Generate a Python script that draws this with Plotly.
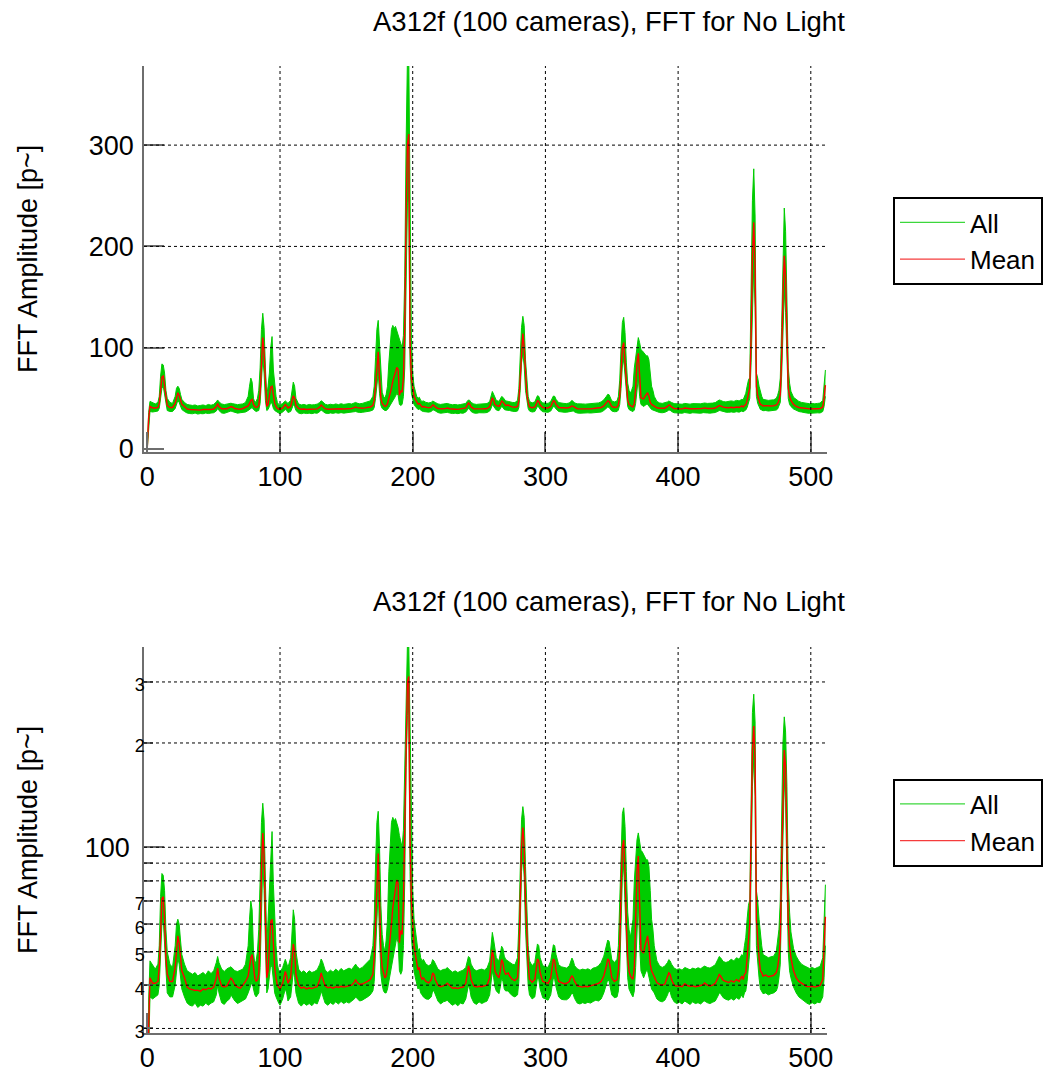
import math
import plotly.graph_objects as go

# ---------------- data ----------------
freq = [0, 1, 2, 4, 6, 8, 9, 10, 11, 12,
        13, 14, 15, 17, 19, 21, 22, 23, 24, 25,
        26, 28, 30, 32, 34, 36, 38, 40, 42, 44,
        46, 48, 50, 52, 53, 54, 56, 58, 60, 62,
        63, 64, 66, 68, 70, 72, 74, 76, 77, 78,
        79, 80, 81, 82, 83, 84, 85, 86, 87, 88,
        89, 90, 91, 92, 93, 94, 95, 96, 97, 98,
        99, 100, 102, 104, 105, 106, 108, 109, 110, 111,
        112, 114, 116, 118, 120, 122, 124, 126, 128, 130,
        131, 132, 134, 136, 138, 140, 142, 144, 146, 148,
        150, 152, 154, 156, 157, 158, 160, 162, 164, 166,
        168, 170, 171, 172, 173, 174, 175, 176, 177, 178,
        179, 180, 181, 182, 183, 184, 185, 186, 187, 188,
        189, 190, 191, 192, 193, 194, 195, 196, 197, 198,
        199, 200, 201, 202, 203, 204, 205, 206, 207, 208,
        210, 212, 214, 215, 216, 217, 219, 221, 223, 225,
        226, 228, 230, 232, 234, 236, 238, 240, 241, 242,
        243, 244, 246, 248, 250, 252, 254, 256, 258, 259,
        260, 261, 262, 263, 265, 266, 267, 268, 269, 270,
        272, 273, 275, 277, 279, 280, 281, 282, 283, 284,
        285, 286, 287, 288, 290, 292, 293, 294, 295, 296,
        298, 300, 302, 304, 305, 306, 307, 308, 310, 312,
        314, 316, 318, 319, 320, 321, 322, 324, 326, 328,
        330, 332, 334, 336, 338, 340, 342, 344, 346, 347,
        348, 349, 350, 352, 354, 355, 356, 357, 358, 359,
        360, 361, 362, 363, 364, 365, 366, 367, 368, 369,
        370, 371, 372, 373, 374, 375, 376, 377, 378, 379,
        380, 381, 382, 384, 386, 388, 390, 392, 393, 394,
        395, 397, 399, 401, 403, 405, 407, 409, 411, 413,
        415, 417, 419, 420, 422, 424, 426, 428, 430, 431,
        432, 434, 436, 438, 440, 442, 444, 446, 448, 449,
        450, 451, 452, 453, 454, 455, 456, 457, 458, 459,
        460, 461, 462, 463, 464, 466, 468, 470, 472, 474,
        475, 476, 477, 478, 479, 480, 481, 482, 483, 484,
        485, 487, 489, 491, 493, 495, 497, 499, 501, 503,
        505, 507, 509, 510, 511]

mean_amp = [2, 30, 42, 40.5, 40.5, 41, 45, 58, 71, 72,
            62, 48, 43, 41, 41, 45, 52, 55.5, 53, 47,
            44, 42, 39.5, 39, 38.8, 38.6, 38.7, 38.4, 39, 38.8,
            39.2, 39, 39.5, 42, 44.8, 42, 39.8, 39.5, 39.8, 41,
            41.9, 41.5, 40, 39.5, 39.2, 40, 41, 42.5, 45, 48,
            49, 44, 42, 41, 41.5, 43, 55, 85, 110, 95,
            60, 42, 44, 52, 61, 62, 52, 45, 42, 40,
            39.5, 39, 40.5, 43.8, 42.5, 40.5, 42, 47, 52.6, 50,
            43, 40, 39.2, 39.5, 39, 39.3, 39.1, 39.4, 39.6, 41.5,
            43.4, 42, 39.8, 39.3, 39.5, 39.2, 39.6, 39.4, 39.7, 39.5,
            39.6, 39.8, 40, 40.8, 41.5, 40.8, 40.2, 40.3, 40.6, 41,
            41.5, 43, 48, 62, 85, 96, 70, 50, 45, 43,
            42, 42.5, 45, 50, 54, 60, 67, 72, 77, 80.5,
            78.6, 53, 57.5, 56, 70, 120, 230, 300, 311, 105,
            70, 57.8, 52, 49, 46, 44.3, 45, 42.5, 41.6, 42,
            41, 40.6, 41.5, 43.4, 43, 41.5, 40, 39.6, 39.8, 40.1,
            40.5, 39.8, 39.2, 39.3, 39.1, 39.4, 39.5, 40.5, 43, 45.5,
            44, 41.5, 39.8, 39.5, 39.7, 39.6, 39.8, 40, 42, 46,
            50.6, 48, 44, 43, 42, 44, 47.4, 46.5, 44, 43,
            43.4, 42.5, 41.6, 41.2, 42, 48, 70, 100, 114, 100,
            70, 54, 46, 41.6, 40.8, 41.5, 44, 47.6, 47, 43.5,
            41, 40.7, 40.5, 42, 45, 47.6, 47, 44, 41, 40.7,
            40.4, 40.5, 41, 42, 42.5, 42, 41, 39.8, 39.6, 39.5,
            39.7, 39.6, 39.8, 40, 40.3, 40.5, 41, 42.5, 45.5, 47.6,
            47, 44, 42, 41, 41.5, 44, 52, 75, 100, 105,
            85, 60, 48, 44, 42.5, 42, 41.6, 45, 60, 85,
            94.4, 70, 50.6, 50, 49.5, 52, 54, 55.5, 52, 46,
            44, 43, 42.5, 40.7, 40.2, 40, 40.3, 42, 43.4, 43,
            41.5, 40, 39.7, 39.8, 39.6, 40.4, 39.9, 39.7, 39.8, 39.6,
            39.7, 39.9, 40.2, 40.6, 40, 39.8, 40, 40.5, 42, 42.9,
            42.5, 41.3, 41, 40.7, 41.2, 40.8, 41.5, 41, 42.5, 41.5,
            43, 43.4, 48, 55, 60.4, 110, 190, 223.7, 180, 61.7,
            52, 48, 44, 43.5, 42.5, 42.8, 42.3, 42.5, 42.7, 43.5,
            45, 48, 54, 90, 150, 190.7, 170, 110, 60.4, 52,
            48, 44, 42, 41, 40.5, 40, 39.6, 39.6, 39.7, 39.5,
            39.7, 39.9, 41.5, 50, 63]

all_low = [0.5, 25, 37, 36.5, 37, 37.5, 40, 50, 60, 62,
           53, 42, 38, 37, 37, 40, 45, 48, 46, 42,
           39, 37, 35.5, 35, 34.8, 35.5, 34.5, 35, 34.8, 35.5,
           35, 35.5, 35.8, 37.5, 40, 38, 35.6, 35.2, 36, 36.5,
           37.5, 37, 36, 35.4, 35.8, 36, 36.5, 38, 39, 40,
           41, 39, 37.5, 37, 37.5, 38, 45, 70, 90, 75,
           48, 38, 39, 42, 46, 45, 40, 38, 37, 36,
           35.5, 35, 36.5, 39, 38, 36, 37, 40, 44, 42,
           38, 35.5, 34.8, 35.5, 35, 35.4, 34.9, 35.6, 35.3, 37,
           38.5, 37.5, 35.5, 35, 35.6, 35.2, 35.8, 35.3, 35.9, 35.4,
           35.8, 35.5, 36, 36.5, 37, 36.6, 36, 36.2, 36.5, 37,
           37.5, 38.5, 41, 50, 65, 75, 55, 43, 40, 38.5,
           38, 38, 39, 41, 43, 45, 48, 50, 52, 55,
           53, 44, 43, 44, 52, 80, 170, 240, 250, 85,
           55, 48, 44, 42, 40, 39, 39.5, 38, 37.5, 37,
           36.5, 36.4, 37, 38.5, 38.5, 37.5, 36, 35.3, 35.8, 36,
           36.2, 35.5, 35, 35.4, 34.9, 35.5, 35.3, 36.5, 38, 40,
           39, 37, 35.6, 35.2, 35.8, 35.4, 35.7, 36, 37.5, 40,
           44, 42, 39.5, 38.5, 37.8, 39.5, 42, 41, 39, 38.5,
           38.5, 38, 37.3, 37, 37.5, 41, 58, 85, 95, 82,
           58, 46, 40, 37.5, 36.5, 37, 39.5, 42, 41.5, 39,
           36.8, 36.5, 36.2, 37.5, 40, 42, 41.5, 39.5, 37, 36.4,
           36.3, 36.3, 36.8, 37.5, 38, 37.6, 36.6, 35.5, 35.3, 35.6,
           35.4, 35.7, 35.5, 35.9, 36.2, 36, 36.5, 38, 40, 41.5,
           41, 39, 37.5, 36.8, 37, 38.5, 44, 60, 82, 88,
           70, 50, 42, 39, 38, 37.5, 37, 38.5, 45, 60,
           70, 52, 44, 43, 42, 43, 44, 44, 42, 40,
           39, 38.5, 38, 36.5, 36, 35.8, 36.2, 37.5, 38.5, 38.3,
           37, 35.8, 35.4, 35.7, 35.3, 36, 35.6, 35.2, 35.8, 35.4,
           35.6, 35.3, 35.9, 36, 35.6, 35.4, 35.7, 36, 37.2, 38,
           37.8, 36.8, 36.4, 36.2, 36.6, 36.2, 36.8, 36.4, 37.5, 36.8,
           38, 38.5, 41, 46, 50, 85, 150, 180, 140, 52,
           45, 42, 39, 38.5, 37.8, 38, 37.5, 37.8, 38, 38.5,
           39.5, 42, 46, 72, 120, 155, 135, 85, 50, 44,
           42, 39.5, 38, 37, 36.5, 35.8, 35.5, 35.2, 35.6, 35.3,
           35.7, 35.6, 37, 42, 52]

all_high = [5, 36, 47, 45.5, 44.5, 46, 52, 72, 84, 83,
            75, 58, 50, 46, 45, 52, 60, 62, 60, 54,
            49, 46, 44, 43.5, 43, 43.5, 42.5, 43, 43.5, 42.8,
            44, 43.2, 44, 46.5, 48.4, 46.5, 44.5, 43.8, 44.6, 45,
            45.2, 44.8, 44, 43.8, 44.2, 44.5, 46, 52, 62, 70,
            66, 50, 46, 47, 50, 58, 80, 118, 134, 120,
            80, 52, 62, 75, 100, 111, 78, 62, 52, 46,
            44, 43.5, 45, 47.5, 46.5, 45, 48, 56, 66, 62,
            50, 44.5, 43.5, 44, 43.2, 44, 43.5, 43.8, 44.3, 46,
            47.6, 46.8, 44.2, 43.5, 44.2, 43.6, 44.5, 43.8, 44.7, 44,
            44.5, 44.8, 44.4, 45.5, 46, 45.3, 44.6, 45, 45.8, 46.5,
            47.5, 52, 62, 90, 118, 127, 100, 68, 56, 52,
            50, 54, 62, 85, 105, 118, 122, 119, 121, 117,
            114, 108, 104, 100, 112, 170, 300, 385, 390, 200,
            110, 75, 62, 57, 52, 50, 51, 48, 47, 47.5,
            46, 45.5, 46, 47.4, 47, 46, 44.5, 44, 44.4, 44.5,
            45, 44.2, 43.6, 44, 43.5, 43.9, 44.2, 45, 47, 48.4,
            48, 46, 44.5, 44, 44.3, 44.5, 44.2, 44.8, 47, 52,
            56.8, 54, 50, 48, 47, 49, 51.8, 51, 48.5, 47.5,
            47, 46.5, 46, 45.8, 48, 60, 90, 120, 131, 122,
            88, 65, 52, 47, 45.5, 46.5, 49, 52.6, 52, 48,
            45.5, 45.3, 45, 47, 50, 52.3, 52, 49, 45.8, 45.2,
            45, 44.8, 45.5, 46.8, 47.9, 47, 45.5, 44.6, 44.2, 44.5,
            44.3, 44.6, 44.2, 44.8, 45, 45.5, 46.5, 48.5, 52, 54,
            53.5, 50, 47.5, 46.5, 47.5, 52, 68, 100, 125, 130,
            115, 85, 65, 58, 55, 58, 62, 80, 90, 105,
            110, 105, 98, 97, 95, 93, 92, 92, 88, 75,
            62, 58, 52, 47, 45.5, 45, 45.4, 46.5, 47.4, 47,
            46, 44.8, 44.4, 44.6, 44.2, 45, 44.7, 44.3, 44.8, 44.5,
            44.9, 44.6, 45.2, 45.4, 45, 44.8, 45.3, 45.8, 47.5, 48.4,
            48, 46.8, 46.5, 46.8, 47.5, 47, 48, 47.5, 49, 48.5,
            52, 55, 62, 68, 70.5, 150, 245, 276.6, 230, 75,
            70, 62, 56, 52, 49, 48.5, 48, 48.3, 48.5, 50,
            53, 58, 70, 120, 200, 237.9, 215, 150, 80, 65,
            57, 51, 48.5, 47, 46, 45.5, 45, 44.7, 45, 44.6,
            45, 45.3, 48, 62, 78]

x_ticks = [0, 100, 200, 300, 400, 500]
x_grid = [100, 200, 300, 400, 500]
lin_ticks = [0, 100, 200, 300]
lin_grid = [100, 200, 300]
log_ticks = [30, 40, 50, 60, 70, 80, 90, 100, 200, 300]
log_labels = ["3", "4", "5", "6", "7", "", "", "100", "2", "3"]
log_major = [100]

title_text = "A312f (100 cameras), FFT for No Light"
ylabel_text = "FFT Amplitude [p~]"
series_names = ["All", "Mean"]

assert len(freq) == len(mean_amp) == len(all_low) == len(all_high)

# ---------------- styling ----------------
W, H = 1046, 1077
FONT = "Liberation Sans, Arial, Helvetica, sans-serif"
GREEN = "rgb(0,204,0)"
RED = "rgb(255,0,0)"
LEG_GREEN = "rgb(60,215,60)"
LEG_RED = "rgb(245,60,60)"
AXC = "#6e6e6e"

x_range = [-2.5, 512.2]
lin_range = [-2.96, 378.1]
log_range = [1.464, 2.578]


def fx(p):
    return p / W


def fy(p):
    return 1 - p / H


x_dom = [fx(144), fx(827)]
top_dom = [fy(452), fy(66)]
bot_dom = [fy(1033), fy(647)]

fig = go.Figure()
for xa, ya, leg in [("x", "y", "legend"), ("x2", "y2", "legend2")]:
    # green band spanned by all camera curves
    fig.add_trace(go.Scatter(x=freq, y=all_high, mode="lines",
                             line=dict(color=GREEN, width=1), showlegend=False,
                             xaxis=xa, yaxis=ya, hoverinfo="skip"))
    fig.add_trace(go.Scatter(x=freq, y=all_low, mode="lines",
                             line=dict(color=GREEN, width=1), fill="tonexty",
                             fillcolor=GREEN, showlegend=False,
                             xaxis=xa, yaxis=ya, hoverinfo="skip"))
    fig.add_trace(go.Scatter(x=freq, y=mean_amp, mode="lines",
                             line=dict(color=RED, width=1.4), showlegend=False,
                             xaxis=xa, yaxis=ya))
    # legend entries (no data of their own)
    fig.add_trace(go.Scatter(x=[None], y=[None], mode="lines", name=series_names[0],
                             line=dict(color=LEG_GREEN, width=1.2),
                             xaxis=xa, yaxis=ya, legend=leg))
    fig.add_trace(go.Scatter(x=[None], y=[None], mode="lines", name=series_names[1],
                             line=dict(color=LEG_RED, width=1.2),
                             xaxis=xa, yaxis=ya, legend=leg))

big = dict(family=FONT, size=27, color="black")
common_axis = dict(ticks="inside", tickcolor=AXC, tickwidth=1.5, showline=True,
                   linecolor=AXC, linewidth=1.5, showgrid=False, zeroline=False,
                   tickfont=big, layer="above traces", fixedrange=True, mirror=False)

xcfg = dict(common_axis, domain=x_dom, range=x_range, tickmode="array",
            tickvals=x_ticks, ticklen=20)

small = '<span style="font-size:18px">{}</span>'
log_text = []
for v, t in zip(log_ticks, log_labels):
    if v in log_major:
        log_text.append(t + '<span style="font-size:27px">&nbsp;&nbsp;</span>')
    else:
        log_text.append(small.format(t) if t else "")

fig.update_layout(
    width=W, height=H,
    margin=dict(l=0, r=0, t=0, b=0, autoexpand=False),
    paper_bgcolor="white", plot_bgcolor="white",
    font=dict(family=FONT, size=27, color="black"),
    xaxis=dict(xcfg, anchor="y"),
    xaxis2=dict(xcfg, anchor="y2"),
    yaxis=dict(common_axis, domain=top_dom, range=lin_range, tickmode="array",
               tickvals=lin_ticks, ticklen=20, anchor="x", ticklabelstandoff=3),
    yaxis2=dict(common_axis, domain=bot_dom, type="log", range=log_range,
                tickmode="array", tickvals=log_ticks, ticktext=log_text,
                ticklen=9, anchor="x2", ticklabelstandoff=-8,
                minor=dict(tickmode="array", tickvals=log_major, ticks="inside",
                           ticklen=20, tickcolor=AXC, tickwidth=1.5, showgrid=False)),
    showlegend=True,
)

leg_style = dict(font=dict(family=FONT, size=26, color="black"), bordercolor="black",
                 borderwidth=2, bgcolor="white", xanchor="left", yanchor="top",
                 x=fx(893), tracegroupgap=0, itemwidth=65, traceorder="normal")
fig.update_layout(legend=dict(leg_style, y=fy(197)), legend2=dict(leg_style, y=fy(778.5)))

# grid lines drawn on top of the data (as in the reference)
grid_line = dict(color="black", width=1, dash="dot")
shapes = []
for v in x_grid:
    for xr, yr in [("x", "y domain"), ("x2", "y2 domain")]:
        shapes.append(dict(type="line", xref=xr, yref=yr, x0=v, x1=v, y0=0, y1=1,
                           line=grid_line, layer="above"))
for v in lin_grid:
    shapes.append(dict(type="line", xref="x domain", yref="y", x0=0, x1=1, y0=v, y1=v,
                       line=grid_line, layer="above"))
for v in log_ticks:
    fr = (math.log10(v) - log_range[0]) / (log_range[1] - log_range[0])
    shapes.append(dict(type="line", xref="x2 domain", yref="y2 domain", x0=0, x1=1,
                       y0=fr, y1=fr, line=grid_line, layer="above"))
fig.update_layout(shapes=shapes)

annotations = []
for yc in [21, 601]:
    annotations.append(dict(text=title_text, xref="paper", yref="paper", x=fx(609), y=fy(yc),
                            xanchor="center", yanchor="middle", showarrow=False,
                            font=dict(family=FONT, size=27.5, color="black")))
for yc in [259, 840]:
    annotations.append(dict(text=ylabel_text, xref="paper", yref="paper", x=fx(28), y=fy(yc),
                            xanchor="center", yanchor="middle", showarrow=False, textangle=-90,
                            font=dict(family=FONT, size=27, color="black")))
fig.update_layout(annotations=annotations)

fig.write_html("out.html", config={"displayModeBar": False},
               post_script="document.body.style.margin='0px';")
